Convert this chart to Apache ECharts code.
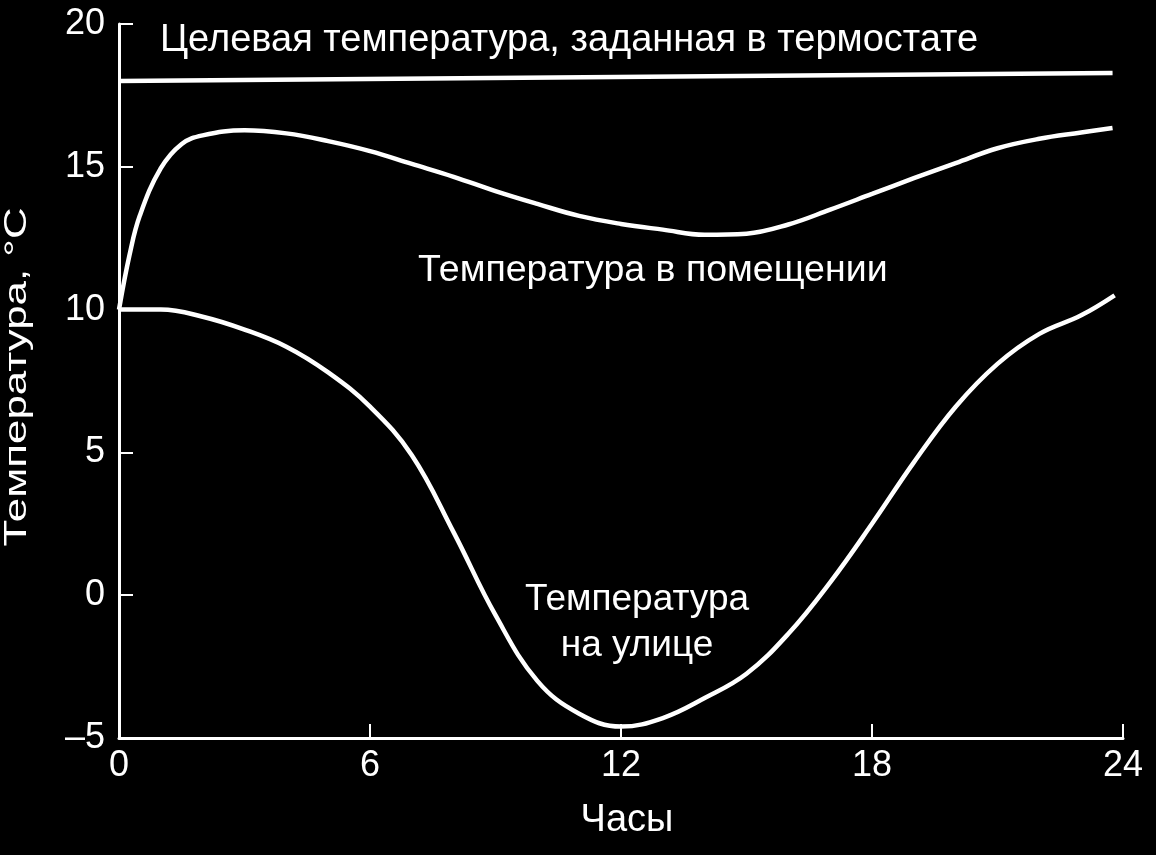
<!DOCTYPE html>
<html>
<head>
<meta charset="utf-8">
<script src="https://cdn.jsdelivr.net/npm/echarts@6/dist/echarts.min.js"></script>
<style>
  html, body { margin: 0; padding: 0; background: #000; }
  #chart { width: 1156px; height: 855px; }
</style>
</head>
<body>
<div id="chart"></div>
<script>
// Hours (x) and temperatures (°C)
const targetHours = [0, 23.75];
const targetTemp  = [18.0, 18.28];

const indoorHours = [0, 0.25, 0.5, 1, 1.5, 2, 3, 4, 5, 6, 7, 8, 9, 10, 11, 12, 13, 14, 15, 16, 17, 18, 19, 20, 21, 22, 23, 23.75];
const indoorTemp  = [10.0, 11.9, 13.3, 14.95, 15.8, 16.1, 16.28, 16.17, 15.9, 15.55, 15.1, 14.65, 14.15, 13.7, 13.28, 13.0, 12.8, 12.62, 12.66, 12.98, 13.5, 14.05, 14.6, 15.13, 15.65, 15.98, 16.2, 16.36];

const outdoorHours = [0, 1, 2, 3, 4, 5, 6, 7, 8, 9, 10, 11, 12, 13, 14, 15, 16, 17, 18, 19, 20, 21, 22, 23, 23.8];
const outdoorTemp  = [10.0, 10.0, 9.75, 9.3, 8.7, 7.8, 6.6, 4.9, 2.2, -0.7, -3.0, -4.15, -4.6, -4.3, -3.6, -2.75, -1.35, 0.45, 2.5, 4.65, 6.6, 8.1, 9.15, 9.8, 10.5];

const xTicks = [0, 6, 12, 18, 24];
const xTickLabels = ['0', '6', '12', '18', '24'];
const yTicks = [-5, 0, 5, 10, 15, 20];
const yTickLabels = ['\u20135', '0', '5', '10', '15', '20'];

const texts = {
  title: 'Целевая температура, заданная в термостате',
  indoor: 'Температура в помещении',
  outdoor1: 'Температура',
  outdoor2: 'на улице',
  xName: 'Часы',
  yName: 'Температура, °С'
};

const zip = (xs, ys) => xs.map((x, i) => [x, ys[i]]);

const regular = "'Liberation Sans', Arial, sans-serif";

const chart = echarts.init(document.getElementById('chart'));
const lineStyle = { color: '#fff', width: 4.5 };

chart.setOption({
  backgroundColor: '#000',
  animation: false,
  grid: { left: 119, right: 33, top: 24, bottom: 117, containLabel: false },
  xAxis: {
    type: 'value', min: 0, max: 24, interval: 6,
    name: texts.xName, nameLocation: 'middle', nameGap: 64,
    nameTextStyle: { color: '#fff', fontSize: 38, fontFamily: regular, padding: [0, 0, 0, 12] },
    axisLine: { show: true, onZero: false, lineStyle: { color: '#fff', width: 3 } },
    axisTick: { show: true, inside: true, length: 14, lineStyle: { color: '#fff', width: 2 } },
    axisLabel: {
      color: '#fff', fontSize: 36, fontFamily: regular, margin: 10,
      formatter: v => xTickLabels[xTicks.indexOf(v)] ?? ''
    },
    splitLine: { show: false }
  },
  yAxis: {
    type: 'value', min: -5, max: 20, interval: 5,
    axisLine: { show: true, onZero: false, lineStyle: { color: '#fff', width: 3 } },
    axisTick: { show: true, inside: true, length: 14, lineStyle: { color: '#fff', width: 2 } },
    axisLabel: {
      color: '#fff', fontSize: 36, fontFamily: regular, margin: 14,
      formatter: v => yTickLabels[yTicks.indexOf(v)] ?? ''
    },
    splitLine: { show: false }
  },
  graphic: [
    { type: 'text', left: 160, top: 22, silent: true,
      style: { text: texts.title, fill: '#fff', font: '38px ' + regular } },
    { type: 'text', left: 418, top: 252, silent: true,
      style: { text: texts.indoor, fill: '#fff', font: '37.5px ' + regular } },
    { type: 'text', x: 637, y: 600, silent: true,
      style: { text: texts.outdoor1, fill: '#fff', font: '37px ' + regular, align: 'center', verticalAlign: 'middle' } },
    { type: 'text', x: 637, y: 646, silent: true,
      style: { text: texts.outdoor2, fill: '#fff', font: '37px ' + regular, align: 'center', verticalAlign: 'middle' } },
    { type: 'text', x: 17, y: 377, rotation: Math.PI / 2, scaleX: 1.37, silent: true,
      style: { text: texts.yName, fill: '#fff', font: '32px ' + regular, align: 'center', verticalAlign: 'middle' } }
  ],
  series: [
    { type: 'line', data: zip(targetHours, targetTemp), showSymbol: false, lineStyle: lineStyle },
    { type: 'line', data: zip(indoorHours, indoorTemp), smooth: 0.4, showSymbol: false, lineStyle: lineStyle },
    { type: 'line', data: zip(outdoorHours, outdoorTemp), smooth: 0.4, showSymbol: false, lineStyle: lineStyle }
  ]
});
</script>
</body>
</html>
